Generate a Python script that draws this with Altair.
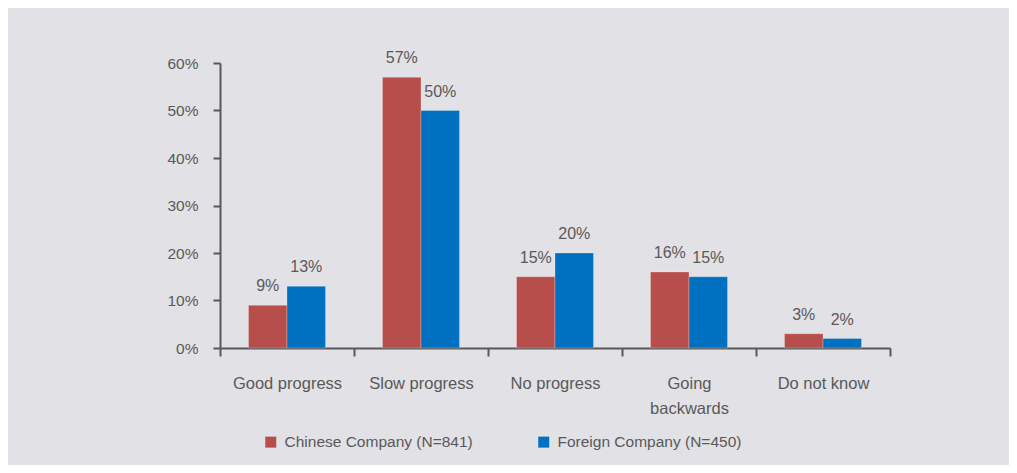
import altair as alt
import pandas as pd

categories = ["Good progress", "Slow progress", "No progress", "Going backwards", "Do not know"]
series = ["Chinese Company (N=841)", "Foreign Company (N=450)"]
chinese = [9, 57, 15, 16, 3]
foreign = [13, 50, 20, 15, 2]
colors = ["#b84e4b", "#0070c0"]

rows = []
for c, v1, v2 in zip(categories, chinese, foreign):
    rows.append({"category": c, "series": series[0], "value": v1 / 100})
    rows.append({"category": c, "series": series[1], "value": v2 / 100})
df = pd.DataFrame(rows)

FONT = "Liberation Sans"
TXT = "#595959"

x = alt.X("category:N", sort=categories, title=None,
          scale=alt.Scale(paddingInner=0, paddingOuter=0),
          axis=alt.Axis(labelAngle=0, tickBand="extent", tickSize=8, tickWidth=2,
                        domainWidth=2, domainColor=TXT, tickColor=TXT,
                        labelPadding=19, labelFontSize=16.5, labelLineHeight=25,
                        labelExpr="datum.value == 'Going backwards' ? ['Going', 'backwards'] : datum.label"))
xo = alt.XOffset("series:N", sort=series, scale=alt.Scale(paddingOuter=0.74, paddingInner=0))
y = alt.Y("value:Q", title=None,
          scale=alt.Scale(domain=[0, 0.6]),
          axis=alt.Axis(values=[0, 0.1, 0.2, 0.3, 0.4, 0.5, 0.6], format=".0%", grid=False,
                        tickSize=7, tickWidth=2, domainWidth=2, domainColor=TXT, tickColor=TXT,
                        labelPadding=15, labelFontSize=15.5))
color = alt.Color("series:N", sort=series, scale=alt.Scale(domain=series, range=colors),
                  legend=alt.Legend(title=None, orient="none", direction="horizontal",
                                    legendX=43, legendY=371, symbolType="square",
                                    symbolSize=121, symbolStrokeWidth=0, labelFontSize=15.5,
                                    labelOffset=6, columnPadding=63, padding=0, labelLimit=400,
                                    labelColor=TXT, labelFont=FONT))

bars = alt.Chart(df).mark_bar(opacity=1, stroke="#ffffff", strokeOpacity=0.25, strokeWidth=1).encode(
    x=x, xOffset=xo, y=y, color=color)
labels = alt.Chart(df).mark_text(baseline="alphabetic", dy=-14, fontSize=16, color=TXT, font=FONT).encode(
    x=x, xOffset=xo, y=y, text=alt.Text("value:Q", format=".0%"))

chart = (bars + labels).properties(
    width=670, height=285,
    autosize=alt.AutoSizeParams(type="none"),
    padding={"left": 212, "top": 55, "right": 119, "bottom": 117},
    background="#e2e1e6",
).configure_view(stroke=None).configure_axis(
    labelFont=FONT, labelColor=TXT
)

chart.save("out.html", embed_options={"renderer": "svg", "actions": False})
